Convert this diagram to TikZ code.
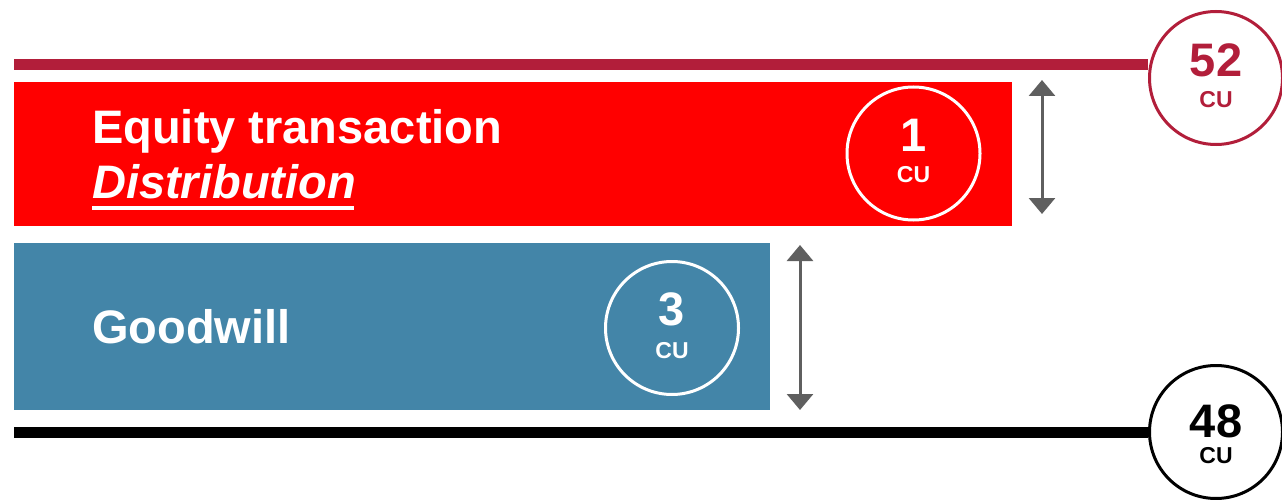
\documentclass[tikz,border=0pt]{standalone}
\usepackage{fontspec}
\setmainfont{Liberation Sans}
\usetikzlibrary{arrows.meta}

\definecolor{barred}{RGB}{255,0,0}
\definecolor{barblue}{RGB}{67,133,168}
\definecolor{darkred}{RGB}{178,30,58}
\definecolor{arrowgray}{RGB}{95,95,95}

\newcommand{\fs}[1]{\fontsize{#1}{#1}\selectfont}

\tikzset{
  bar/.style={rectangle, inner sep=0pt, anchor=north west, draw=none},
  label/.style={anchor=base west, inner sep=0pt, text=white, font=\fs{47}\bfseries},
  ring/.style={circle, inner sep=0pt, minimum size=133pt, line width=3pt},
  bignum/.style={anchor=base, inner sep=0pt, font=\fs{47}\bfseries},
  unit/.style={anchor=base, inner sep=0pt, font=\fs{23}\bfseries},
  level/.style={line width=11pt},
  span/.style={arrowgray, line width=3pt, {Triangle[width=26pt,length=16pt]}-{Triangle[width=26pt,length=16pt]}}
}

\begin{document}
\begin{tikzpicture}[x=1pt, y=-1pt]
\useasboundingbox (0,0) rectangle (1282,500);

% horizontal bars
\node[bar, fill=barred, minimum width=998pt, minimum height=144pt] (eq) at (14,82) {};
\node[bar, fill=barblue, minimum width=756pt, minimum height=167pt] (gw) at (14,243) {};

% bar captions
\node[label] (eqt) at (92,143) {Equity transaction};
\node[label, font=\fs{47}\bfseries\itshape] (dist) at (92,198) {Distribution};
\draw[white, line width=4pt] ([yshift=-10pt]dist.base west) -- ([yshift=-10pt,xshift=-2pt]dist.base east);
\node[label] (gwt) at (92,343) {Goodwill};

% amounts inside the bars
\node[ring, draw=white] (c1) at (913.5,153.5) {};
\node[bignum, text=white] (n1) at (913.5,152) {1};
\node[unit, text=white] (u1) at (913.5,182) {CU};

\node[ring, draw=white] (c3) at (672,328) {};
\node[bignum, text=white] (n3) at (672,325) {3};
\node[unit, text=white] (u3) at (672,358) {CU};

% level lines with their totals
\node[ring, draw=darkred, fill=white] (c52) at (1216,78) {};
\node[bignum, text=darkred] (n52) at (1216,77) {52};
\node[unit, text=darkred] (u52) at (1216,108) {CU};
\coordinate (top0) at (14,65);
\draw[level, darkred] (top0) -- (top0 -| c52.west);

\node[ring, draw=black, fill=white] (c48) at (1216,432) {};
\node[bignum, text=black] (n48) at (1216,437) {48};
\node[unit, text=black] (u48) at (1216,463) {CU};
\coordinate (bot0) at (14,432);
\draw[level, black] (bot0) -- (bot0 -| c48.west);

% height markers beside the bars
\coordinate (a1t) at (1042,80);
\coordinate (a1b) at (1042,214);
\draw[span] (a1t) -- (a1b);
\coordinate (a2t) at (800,245);
\coordinate (a2b) at (800,410);
\draw[span] (a2t) -- (a2b);
\end{tikzpicture}
\end{document}
